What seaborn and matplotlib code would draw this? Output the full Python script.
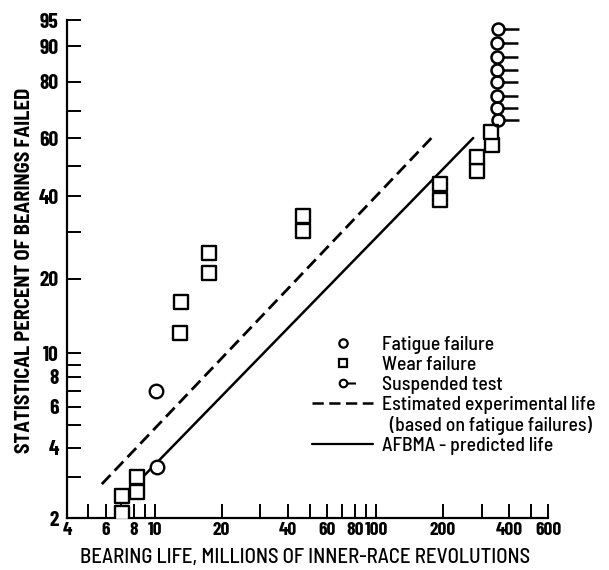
import numpy as np
import matplotlib
matplotlib.use("Agg")
import matplotlib.pyplot as plt
from matplotlib.path import Path
from matplotlib.lines import Line2D
from matplotlib.ticker import FixedLocator, NullFormatter
import seaborn as sns

# ---- data: life in millions of inner-race revolutions, percent of bearings failed ----
fatigue_life = [10.2, 10.1]
fatigue_pct = [3.3, 7.0]

wear_life = [7.1, 7.1, 8.3, 8.3, 13.0, 13.1, 17.6, 17.6, 46.9, 46.9,
             194, 194, 286, 286, 334, 332]
wear_pct = [2.1, 2.5, 2.6, 3.0, 12.1, 16.2, 21.1, 25.1, 30.3, 34.2,
            38.9, 43.9, 48.2, 53.1, 57.5, 62.3]

suspended_life = [356, 354, 354, 354, 354, 354, 354, 356]
suspended_pct = [66.7, 71.0, 75.3, 80.0, 83.7, 87.4, 90.7, 93.5]

experimental_life = [5.75, 178]
experimental_pct = [2.8, 60]
afbma_life = [8.2, 275]
afbma_pct = [2.8, 60]

x_major = [4, 6, 8, 10, 20, 40, 60, 80, 100, 200, 400, 600]
x_minor = [5, 7, 9, 30, 50, 70, 90, 300, 500]
y_major = [2, 4, 6, 8, 10, 20, 40, 60, 80, 90, 95]
y_minor = [3, 5, 7, 9, 30, 50, 70]

x_title = "BEARING LIFE, MILLIONS OF INNER-RACE REVOLUTIONS"
y_title = "STATISTICAL PERCENT OF BEARINGS FAILED"
legend_labels = ["Fatigue failure", "Wear failure", "Suspended test",
                 "Estimated experimental life", "  (based on fatigue failures)",
                 "AFBMA - predicted life"]

# ---- style ----
sns.set_style("ticks")
TEXT_FONT = ["Barlow Semi Condensed", "DejaVu Sans"]
TICK_FONT = ["Barlow Condensed", "DejaVu Sans"]
plt.rcParams["font.family"] = TEXT_FONT
for key in ("text.color", "axes.labelcolor", "xtick.color", "ytick.color", "axes.edgecolor"):
    plt.rcParams[key] = "black"

DPI = 100
fig = plt.figure(figsize=(6.09, 5.70), dpi=DPI)
ax = fig.add_axes([0.110, 0.0912, 0.790, 0.8737])
renderer = fig.canvas.get_renderer()


def size_for(text, target_px, **props):
    """Font size (pt) that makes `text` span target_px pixels."""
    t = fig.text(0, 0, text, fontsize=10, **props)
    w = t.get_window_extent(renderer=renderer).width
    t.remove()
    return 10 * target_px / w


# ---- marks ----
dash = (0, (4.5, 2.2))
sns.lineplot(x=experimental_life, y=experimental_pct, ax=ax, color="black",
             linewidth=2.0, linestyle=dash, estimator=None, zorder=2)
sns.lineplot(x=afbma_life, y=afbma_pct, ax=ax, color="black",
             linewidth=1.8, estimator=None, zorder=2)

sns.scatterplot(x=wear_life, y=wear_pct, ax=ax, marker="s", s=95,
                facecolor="white", edgecolor="black", linewidth=1.7, zorder=3)
sns.scatterplot(x=fatigue_life, y=fatigue_pct, ax=ax, marker="o", s=95,
                facecolor="white", edgecolor="black", linewidth=1.7, zorder=3)

# suspended test: open circle with a stem pointing right
stem_marker = Path.make_compound_path(Path.unit_circle(), Path([(1, 0), (3.5, 0)]))
sns.scatterplot(x=suspended_life, y=suspended_pct, ax=ax, marker=stem_marker,
                s=30.2 ** 2, facecolor=(1, 1, 1, 0), edgecolor="black",
                linewidth=1.8, zorder=3)

# ---- scales ----
def weibull(p):
    p = np.clip(np.asarray(p, dtype=float), 1e-9, 100 - 1e-9)
    return np.log(-np.log1p(-p / 100.0))


def weibull_inv(w):
    return 100.0 * -np.expm1(-np.exp(np.asarray(w, dtype=float)))


ax.set_xscale("log")
ax.set_yscale("function", functions=(weibull, weibull_inv))
ax.set_xlim(4, 600)
ax.set_ylim(2, 95)

ax.set_xticks(x_major, labels=[str(v) for v in x_major],
              fontsize=14, fontweight="bold", family=TICK_FONT)
ax.xaxis.set_minor_locator(FixedLocator(x_minor))
ax.xaxis.set_minor_formatter(NullFormatter())
ax.set_yticks(y_major, labels=[str(v) for v in y_major],
              fontsize=15.5, fontweight="bold", family=TICK_FONT)
ax.yaxis.set_minor_locator(FixedLocator(y_minor))
ax.yaxis.set_minor_formatter(NullFormatter())

ax.tick_params(which="both", direction="in", length=10, width=1.4, color="black",
               bottom=True, left=True, top=False, right=False)
ax.tick_params(axis="x", which="both", pad=3)
ax.tick_params(axis="y", which="both", pad=6)

for side in ("top", "right"):
    ax.spines[side].set_visible(False)
for side in ("left", "bottom"):
    ax.spines[side].set_linewidth(1.6)
    ax.spines[side].set_color("black")

xl_size = size_for(x_title, 450, fontweight="medium")
ax.set_xlabel(x_title, fontsize=xl_size, fontweight="medium")
ax.xaxis.set_label_coords(0.495, -0.08)
ax.xaxis.label.set_va("center")

yl_size = size_for(y_title, 366, fontweight="bold")
ax.set_ylabel(y_title, fontsize=yl_size, fontweight="bold")
ax.yaxis.set_label_coords(-0.088, 0.498)
ax.yaxis.label.set_va("center")

# ---- legend ----
lg_size = size_for(legend_labels[3], 213, fontweight="medium")
px_per_em = lg_size * DPI / 72
legend_stem = Path.make_compound_path(Path.unit_circle(), Path([(1, 0), (3.3, 0)]))
handles = [
    Line2D([], [], ls="none", marker="o", ms=6, mfc="none", mec="black", mew=1.6),
    Line2D([], [], ls="none", marker="s", ms=6, mfc="none", mec="black", mew=1.6),
    Line2D([], [], ls="none", marker=legend_stem, ms=18, mfc="none", mec="black", mew=1.5),
    Line2D([], [], color="black", lw=1.8, ls=dash),
    Line2D([], [], ls="none"),
    Line2D([], [], color="black", lw=1.6),
]
ax.legend(handles, legend_labels, loc="upper left",
          bbox_to_anchor=(312 / 609, 1 - 336 / 570), bbox_transform=fig.transFigure,
          frameon=False, prop={"size": lg_size, "weight": "medium"},
          handlelength=61 / px_per_em, handletextpad=9 / px_per_em,
          labelspacing=0.1, borderpad=0, borderaxespad=0)

fig.savefig("out.png", dpi=DPI, facecolor="white")
